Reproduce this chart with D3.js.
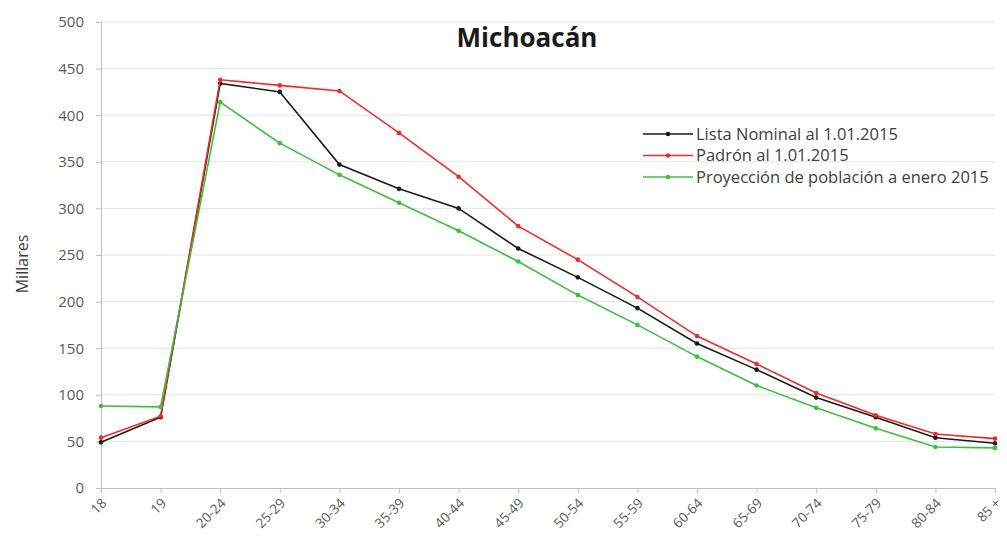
<!DOCTYPE html>
<html>
<head>
<meta charset="utf-8">
<script src="https://cdn.jsdelivr.net/npm/d3@7"></script>
<style>
  body { margin: 0; background: #fff; }
  svg text { font-family: "Open Sans", "Liberation Sans", sans-serif; }
</style>
</head>
<body>
<svg id="chart"></svg>
<script>
var ageGroups = ['18', '19', '20-24', '25-29', '30-34', '35-39', '40-44', '45-49', '50-54', '55-59', '60-64', '65-69', '70-74', '75-79', '80-84', '85 +']
var listaNominal = [49, 76, 434, 425, 347, 321, 300, 257, 226, 193, 155, 127, 97, 76, 54, 48]
var padron = [54, 77, 438, 432, 426, 381, 334, 281, 245, 205, 163, 133, 102, 78, 58, 53]
var proyeccion = [88, 87, 414, 370, 336, 306, 276, 243, 207, 175, 141, 110, 86, 64, 44, 43]
var yTicks = [0, 50, 100, 150, 200, 250, 300, 350, 400, 450, 500]

var seriesNames = ['Lista Nominal al 1.01.2015', 'Padrón al 1.01.2015', 'Proyección de población a enero 2015']
var seriesValues = [listaNominal, padron, proyeccion]
var seriesColors = ['#1a1a1a', '#ee2b2b', '#3cbf3c']

var w = 1007
var h = 537
var svg = d3.select('#chart').attr('width', w).attr('height', h)

var x = d3.scalePoint().domain(ageGroups).range([101, 995])
var y = d3.scaleLinear().domain([0, 500]).range([488, 22])

// grid
svg.append('g')
  .selectAll('line')
  .data(yTicks.filter(d => d > 0))
  .enter().append('line')
  .attr('x1', 101).attr('x2', 995)
  .attr('y1', d => y(d)).attr('y2', d => y(d))
  .attr('stroke', '#e3e3e3').attr('stroke-width', 1)

// y axis
var yAxis = svg.append('g')
  .attr('transform', 'translate(101,0)')
  .call(d3.axisLeft(y).tickValues(yTicks).tickSize(5).tickPadding(12))
yAxis.select('.domain').attr('stroke', '#bfbfbf')
yAxis.selectAll('line').attr('stroke', '#bfbfbf')
yAxis.selectAll('text').attr('fill', '#595959').style('font-size', '15px')

// x axis
var xAxis = svg.append('g')
  .attr('transform', 'translate(0,488)')
  .call(d3.axisBottom(x).tickSize(5).tickSizeOuter(0))
xAxis.select('.domain').attr('stroke', '#bfbfbf')
xAxis.selectAll('line').attr('stroke', '#bfbfbf')
xAxis.selectAll('text')
  .attr('fill', '#595959')
  .style('font-size', '13.5px')
  .attr('text-anchor', 'end')
  .attr('dy', null)
  .attr('y', 0)
  .attr('transform', 'translate(6,16) rotate(-45)')

// lines
var line = d3.line()
  .x((d, i) => x(ageGroups[i]))
  .y(d => y(d))

seriesValues.forEach(function (vals, k) {
  var g = svg.append('g')
  g.append('path')
    .datum(vals)
    .attr('d', line)
    .attr('fill', 'none')
    .attr('stroke', seriesColors[k])
    .attr('stroke-width', 1.6)
  g.selectAll('circle')
    .data(vals)
    .enter().append('circle')
    .attr('cx', (d, i) => x(ageGroups[i]))
    .attr('cy', d => y(d))
    .attr('r', 2.3)
    .attr('fill', seriesColors[k])
})

// title
svg.append('text')
  .attr('x', 527).attr('y', 47)
  .attr('text-anchor', 'middle')
  .style('font-size', '26px')
  .style('font-weight', 'bold')
  .attr('fill', '#1a1a1a')
  .text('Michoacán')

// y label
svg.append('text')
  .attr('transform', 'translate(28,264) rotate(-90)')
  .attr('text-anchor', 'middle')
  .style('font-size', '16px')
  .attr('fill', '#404040')
  .text('Millares')

// legend
var legend = svg.append('g').attr('transform', 'translate(643,134)')
seriesNames.forEach(function (name, k) {
  var row = legend.append('g').attr('transform', 'translate(0,' + (k * 21.5) + ')')
  row.append('line')
    .attr('x1', 0).attr('x2', 50)
    .attr('stroke', seriesColors[k]).attr('stroke-width', 1.6)
  row.append('circle').attr('cx', 25).attr('r', 2.3).attr('fill', seriesColors[k])
  row.append('text')
    .attr('x', 53).attr('y', 5.5)
    .style('font-size', '16.5px')
    .attr('fill', '#404040')
    .text(name)
})
</script>
</body>
</html>
